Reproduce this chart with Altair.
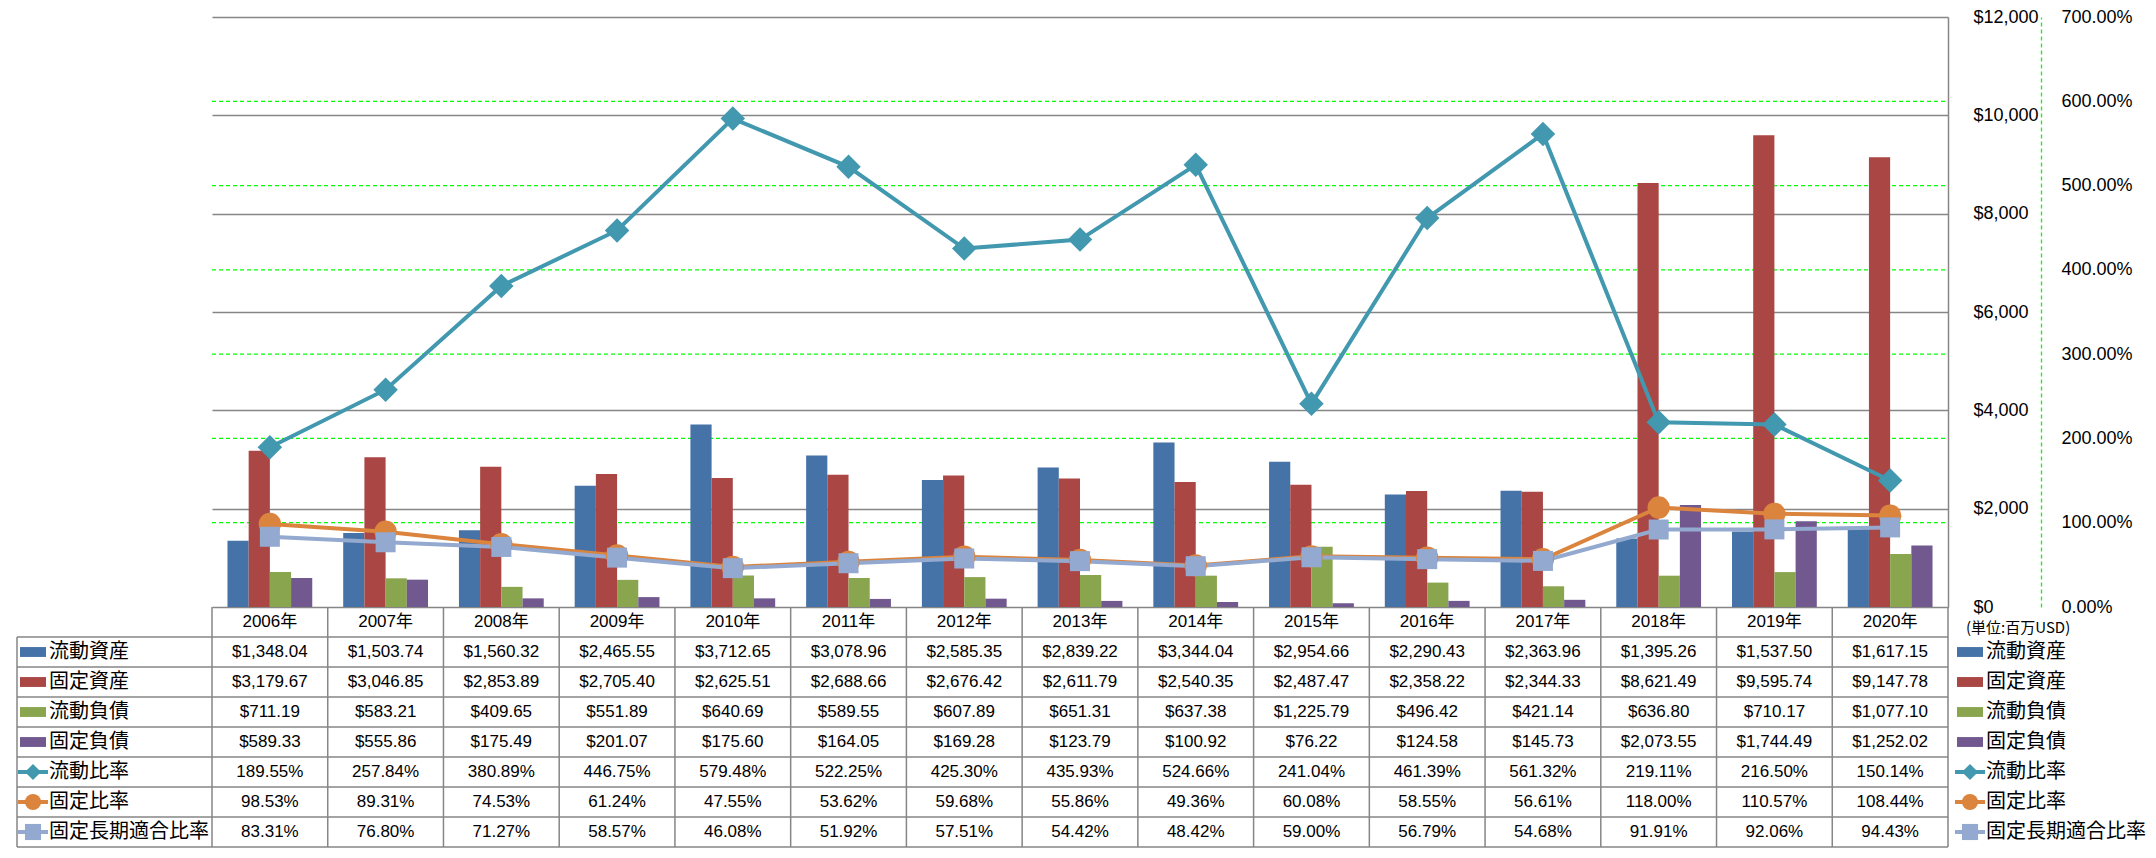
import altair as alt
import pandas as pd

# ---------------- data ----------------
years = ["2006年", "2007年", "2008年", "2009年", "2010年", "2011年", "2012年", "2013年",
         "2014年", "2015年", "2016年", "2017年", "2018年", "2019年", "2020年"]
bar_series = ["流動資産", "固定資産", "流動負債", "固定負債"]
line_series = ["流動比率", "固定比率", "固定長期適合比率"]

current_assets = [1348.04, 1503.74, 1560.32, 2465.55, 3712.65, 3078.96, 2585.35, 2839.22,
                  3344.04, 2954.66, 2290.43, 2363.96, 1395.26, 1537.50, 1617.15]
fixed_assets = [3179.67, 3046.85, 2853.89, 2705.40, 2625.51, 2688.66, 2676.42, 2611.79,
                2540.35, 2487.47, 2358.22, 2344.33, 8621.49, 9595.74, 9147.78]
current_liab = [711.19, 583.21, 409.65, 551.89, 640.69, 589.55, 607.89, 651.31,
                637.38, 1225.79, 496.42, 421.14, 636.80, 710.17, 1077.10]
fixed_liab = [589.33, 555.86, 175.49, 201.07, 175.60, 164.05, 169.28, 123.79,
              100.92, 76.22, 124.58, 145.73, 2073.55, 1744.49, 1252.02]
current_ratio = [189.55, 257.84, 380.89, 446.75, 579.48, 522.25, 425.30, 435.93,
                 524.66, 241.04, 461.39, 561.32, 219.11, 216.50, 150.14]
fixed_ratio = [98.53, 89.31, 74.53, 61.24, 47.55, 53.62, 59.68, 55.86,
               49.36, 60.08, 58.55, 56.61, 118.00, 110.57, 108.44]
fixed_lt_ratio = [83.31, 76.80, 71.27, 58.57, 46.08, 51.92, 57.51, 54.42,
                  48.42, 59.00, 56.79, 54.68, 91.91, 92.06, 94.43]

series_colors = ["#4572A7", "#AA4643", "#89A54E", "#71588F", "#4198AF", "#DB843D", "#93A9CF"]
line_shapes = ["diamond", "circle", "square"]
marker_sizes = [600, 400, 400]
dollar_ticks = [0, 2000, 4000, 6000, 8000, 10000, 12000]
pct_ticks = [0, 1, 2, 3, 4, 5, 6, 7]
pct_grid = [1, 2, 3, 4, 5, 6]
unit_label = "(単位:百万USD)"

# ---------------- tables ----------------
bar_values = dict(zip(bar_series, [current_assets, fixed_assets, current_liab, fixed_liab]))
line_values = dict(zip(line_series, [current_ratio, fixed_ratio, fixed_lt_ratio]))

df_bars = pd.DataFrame([{"year": y, "series": s, "value": v}
                        for s in bar_series for y, v in zip(years, bar_values[s])])
df_lines = pd.DataFrame([{"year": y, "series": s, "value": v / 100.0}
                         for s in line_series for y, v in zip(years, line_values[s])])

table_rows = []
for y in years:
    table_rows.append({"year": y, "row": "hdr", "text": y})
for s in bar_series:
    for y, v in zip(years, bar_values[s]):
        table_rows.append({"year": y, "row": s, "text": f"${v:,.2f}"})
for s in line_series:
    for y, v in zip(years, line_values[s]):
        table_rows.append({"year": y, "row": s, "text": f"{v:.2f}%"})
df_table = pd.DataFrame(table_rows)

rows_domain = ["hdr"] + bar_series + line_series
df_rows = pd.DataFrame({"row": bar_series + line_series})
df_leg_bars = pd.DataFrame({"row": bar_series})
df_leg_lines = pd.DataFrame({"row": line_series})
df_hlines = pd.DataFrame({"row": rows_domain})
df_years = pd.DataFrame({"year": years})
df_last = pd.DataFrame({"year": years[-1:]})
df_one = pd.DataFrame({"row": ["hdr"], "label": [unit_label]})
df_pgrid = pd.DataFrame({"value": pct_grid})

# ---------------- layout / style ----------------
W = 1736
H_PLOT = 590
ROW_H = 30
H = H_PLOT + ROW_H * len(rows_domain)
LEFT_COL = 195

GRAY = "#868686"
GREEN = "#00FF00"
AXIS_FONT = "Liberation Sans"
NUM_FONT = "Liberation Sans, Noto Sans CJK JP"
CJK_FONT = "Noto Sans CJK JP"
RECT_PATH = "M-1,-0.38L1,-0.38L1,0.38L-1,0.38Z"

x_scale = alt.Scale(domain=years, paddingInner=0, paddingOuter=0)
color_scale = alt.Scale(domain=bar_series + line_series, range=series_colors)
shape_scale = alt.Scale(domain=line_series, range=line_shapes)
row_scale = alt.Scale(domain=rows_domain, range=[H_PLOT, H], paddingInner=0, paddingOuter=0)


def X(**kw):
    return alt.X("year:N", scale=x_scale, axis=None, **kw)


def ROW(**kw):
    return alt.Y("row:N", scale=row_scale, axis=None, **kw)


# green dashed % gridlines (drawn beneath the bars)
green_grid = alt.Chart(df_pgrid).mark_rule(color=GREEN, strokeWidth=1.3, strokeDash=[4, 3]).encode(
    y=alt.Y("value:Q", scale=alt.Scale(domain=[0, 7], range=[H_PLOT, 0], nice=False), axis=None),
    x=alt.value(0), x2=alt.value(W))

# bars ($ axis on the right)
bars = alt.Chart(df_bars).mark_bar().encode(
    x=X(),
    xOffset=alt.XOffset("series:N", scale=alt.Scale(domain=bar_series, paddingInner=0, paddingOuter=0.73)),
    y=alt.Y("value:Q",
            scale=alt.Scale(domain=[0, 12000], range=[H_PLOT, 0], nice=False),
            axis=alt.Axis(orient="right", values=dollar_ticks, format="$,.0f", grid=True,
                          gridColor=GRAY, gridWidth=1.5, ticks=False, tickSize=0,
                          labelPadding=25, domainColor=GRAY, domainWidth=1.5,
                          labelFont=AXIS_FONT, labelFontSize=18, labelColor="black",
                          title=None)),
    color=alt.Color("series:N", scale=color_scale, legend=None),
)

# lines (% axis further right)
line_y = alt.Y("value:Q",
               scale=alt.Scale(domain=[0, 7], range=[H_PLOT, 0], nice=False),
               axis=alt.Axis(orient="right", offset=93, values=pct_ticks, format=".2%",
                             grid=False, ticks=False, tickSize=0, labelPadding=20,
                             domainColor=GREEN, domainDash=[4, 3], domainWidth=1.3,
                             labelFont=AXIS_FONT, labelFontSize=18, labelColor="black",
                             title=None))
lines = alt.Chart(df_lines).mark_line(strokeWidth=4).encode(
    x=X(), y=line_y, color=alt.Color("series:N", scale=color_scale, legend=None))
points = alt.Chart(df_lines).mark_point(filled=True, opacity=1).encode(
    x=X(), y=line_y,
    color=alt.Color("series:N", scale=color_scale, legend=None),
    shape=alt.Shape("series:N", scale=shape_scale, legend=None),
    size=alt.Size("series:N", scale=alt.Scale(domain=line_series, range=marker_sizes), legend=None))
line_group = alt.layer(lines, points)

# data table
cell_text = alt.Chart(df_table).mark_text(font=NUM_FONT, fontSize=17, color="black").encode(
    x=X(), y=ROW(), text="text:N")
hlines = alt.Chart(df_hlines).mark_rule(color=GRAY, strokeWidth=1.5).encode(
    y=ROW(bandPosition=1), x=alt.value(-LEFT_COL), x2=alt.value(W))
vlines = alt.Chart(df_years).mark_rule(color=GRAY, strokeWidth=1.5).encode(
    x=X(bandPosition=0), y=alt.value(H_PLOT), y2=alt.value(H))
vlast = alt.Chart(df_last).mark_rule(color=GRAY, strokeWidth=1.5).encode(
    x=X(bandPosition=1), y=alt.value(H_PLOT), y2=alt.value(H))
lborder = alt.Chart(df_one).mark_rule(color=GRAY, strokeWidth=1.5).encode(
    x=alt.value(-LEFT_COL), y=alt.value(H_PLOT + ROW_H), y2=alt.value(H))


def legend_layers(x0):
    labels = alt.Chart(df_rows).mark_text(align="left", font=CJK_FONT, fontSize=20,
                                          color="black").encode(
        x=alt.value(x0 + 31), y=ROW(), text="row:N")
    swatch = alt.Chart(df_leg_bars).mark_point(shape=RECT_PATH, filled=True, opacity=1,
                                               size=676).encode(
        x=alt.value(x0 + 15), y=ROW(),
        color=alt.Color("row:N", scale=color_scale, legend=None))
    seg = alt.Chart(df_leg_lines).mark_rule(strokeWidth=4).encode(
        x=alt.value(x0), x2=alt.value(x0 + 30), y=ROW(),
        color=alt.Color("row:N", scale=color_scale, legend=None))
    mk = alt.Chart(df_leg_lines).mark_point(filled=True, opacity=1, size=260).encode(
        x=alt.value(x0 + 15), y=ROW(),
        color=alt.Color("row:N", scale=color_scale, legend=None),
        shape=alt.Shape("row:N", scale=shape_scale, legend=None))
    return [seg, mk, swatch, labels]


unit = alt.Chart(df_one).mark_text(align="left", font=CJK_FONT, fontSize=15, color="black",
                                   dy=6).encode(
    x=alt.value(W + 18), y=ROW(), text="label:N")

table_group = alt.layer(hlines, vlines, vlast, lborder, cell_text, unit,
                        *legend_layers(-LEFT_COL + 1), *legend_layers(W + 7))

chart = alt.layer(green_grid, bars, line_group, table_group).resolve_scale(
    y="independent"
).properties(
    width=W, height=H,
    padding={"left": 8, "top": 0, "right": 0, "bottom": 0},
).configure_view(strokeWidth=0)

chart.save("out.html", embed_options={"renderer": "svg", "actions": False})
